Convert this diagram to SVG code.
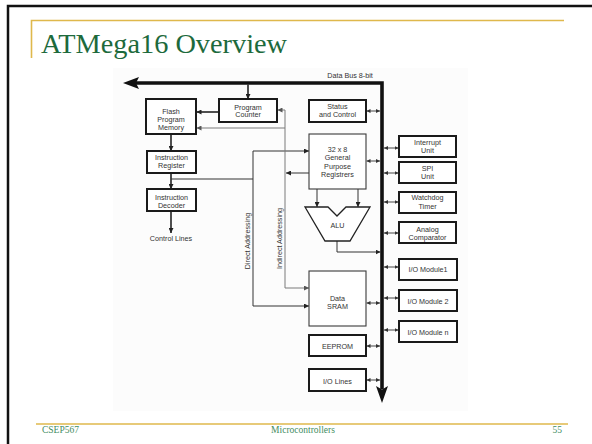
<svg xmlns="http://www.w3.org/2000/svg" width="592" height="444" viewBox="0 0 592 444">
  <style>
    .title { font-family: "Liberation Serif", "DejaVu Serif", serif; font-size: 28px; fill: #1d6a3c; }
    .foot { font-family: "Liberation Serif", "DejaVu Serif", serif; font-size: 9.5px; fill: #3f8d5f; }
    .gold { stroke: #dfb84c; stroke-width: 1.6; fill: none; }
    .frame { stroke: #111; stroke-width: 2.5; fill: none; }
    .lbl { font-family: "Liberation Sans", Arial, sans-serif; font-size: 7.2px; fill: #333; text-anchor: middle; }
    .box { fill: #fff; stroke: #1a1a1a; stroke-width: 2; }
    .tbox { fill: #fff; stroke: #3a3a3a; stroke-width: 1.1; }
    .bus { stroke: #111; stroke-width: 3.6; fill: none; stroke-linejoin: miter; }
    .thick { stroke: #222; stroke-width: 1.6; fill: none; marker-end: url(#ah); }
    .dark { stroke: #333; stroke-width: 1; fill: none; marker-end: url(#ah); }
    .grey { stroke: #7a7a7a; stroke-width: 1; fill: none; }
    .greya { stroke: #7a7a7a; stroke-width: 1; fill: none; marker-end: url(#ahg); }
    .bi { stroke: #444; stroke-width: 1; fill: none; marker-start: url(#ahs); marker-end: url(#ahs); }
  </style>
  <defs>
    <marker id="ah" viewBox="0 0 6 6" refX="6" refY="3" markerWidth="5" markerHeight="5" orient="auto-start-reverse" markerUnits="userSpaceOnUse">
      <path d="M0,0 L6,3 L0,6 z" fill="#222"/>
    </marker>
    <marker id="ahg" viewBox="0 0 6 6" refX="6" refY="3" markerWidth="5" markerHeight="5" orient="auto-start-reverse" markerUnits="userSpaceOnUse">
      <path d="M0,0 L6,3 L0,6 z" fill="#555"/>
    </marker>
    <marker id="ahs" viewBox="0 0 6 6" refX="6" refY="3" markerWidth="4" markerHeight="4" orient="auto-start-reverse" markerUnits="userSpaceOnUse">
      <path d="M0,0 L6,3 L0,6 z" fill="#333"/>
    </marker>
  </defs>

  <!-- slide frame and decoration -->
  <rect width="592" height="444" fill="#fff"/>
  <path class="frame" d="M8 444 V6 H592"/>
  <path class="gold" d="M31.5 58 V20.5 H564"/>
  <text class="title" x="41" y="53" textLength="246" lengthAdjust="spacingAndGlyphs">ATMega16 Overview</text>
  <path class="gold" d="M36 424 H568"/>
  <text class="foot" x="42" y="432.5">CSEP567</text>
  <text class="foot" x="303" y="432.5" text-anchor="middle">Microcontrollers</text>
  <text class="foot" x="562" y="432.5" text-anchor="end">55</text>

  <!-- figure background -->
  <rect x="113" y="68" width="355" height="343" fill="#fcfcfc"/>

  <!-- connectors -->
  <g id="connectors">
    <!-- data bus -->
    <path class="bus" d="M136 83 H382 V389"/>
    <polygon points="123,83 139,77 136,83 139,89" fill="#111"/>
    <polygon points="382,403 376,386 382,389.5 388,386" fill="#111"/>
    <text class="lbl" x="350" y="78">Data Bus 8-bit</text>

    <!-- program flow -->
    <path class="thick" d="M248 84.5 V99"/>
    <path class="thick" d="M219 112 H196.5"/>
    <path class="thick" d="M171 134 V151"/>
    <path class="thick" d="M171 173 V189"/>
    <path class="thick" d="M171 211 V233"/>

    <!-- direct addressing -->
    <path class="dark" style="marker-end:none" d="M171 179 H253"/>
    <path class="dark" d="M253 151 H309"/>
    <path class="dark" d="M253 151 V306 H309"/>
    <text class="lbl" x="250" y="241" transform="rotate(-90 250 241)">Direct Addressing</text>

    <!-- indirect addressing -->
    <path class="grey" d="M285 110 V288"/>
    <path class="greya" d="M285 110 H277.5"/>
    <path class="greya" d="M285 128 H196.5"/>
    <path class="greya" d="M285 288 H309"/>
    <path class="dark" d="M309 173 H286"/>
    <text class="lbl" x="282" y="238.5" transform="rotate(-90 282 238.5)">Indirect Addressing</text>

    <!-- registers to ALU and ALU to bus -->
    <path class="dark" d="M317 189 V207"/>
    <path class="dark" d="M358 189 V207"/>
    <path class="dark" d="M337 241 V252 H380.5"/>

    <!-- bidirectional bus links, left side -->
    <path class="bi" d="M366.5 111 H380"/>
    <path class="bi" d="M366.5 161 H380"/>
    <path class="bi" d="M366.5 303 H380"/>
    <path class="bi" d="M366.5 346 H380"/>
    <path class="bi" d="M366.5 380 H380"/>

    <!-- bidirectional bus links, right side -->
    <path class="bi" d="M384 148 H398.5"/>
    <path class="bi" d="M384 173 H398.5"/>
    <path class="bi" d="M384 202 H398.5"/>
    <path class="bi" d="M384 233 H398.5"/>
    <path class="bi" d="M384 267 H398.5"/>
    <path class="bi" d="M384 298 H398.5"/>
    <path class="bi" d="M384 330 H398.5"/>
  </g>

  <!-- nodes -->
  <g id="flash">
    <rect class="box" x="146" y="99" width="50" height="35"/>
    <text class="lbl" x="171" y="113.5">Flash</text>
    <text class="lbl" x="171" y="121.5">Program</text>
    <text class="lbl" x="171" y="129.5">Memory</text>
  </g>
  <g id="program-counter">
    <rect class="box" x="219" y="99" width="58" height="23"/>
    <text class="lbl" x="248" y="109.5">Program</text>
    <text class="lbl" x="248" y="117">Counter</text>
  </g>
  <g id="instruction-register">
    <rect class="box" x="147" y="151" width="49" height="22"/>
    <text class="lbl" x="171.5" y="160">Instruction</text>
    <text class="lbl" x="171.5" y="168">Register</text>
  </g>
  <g id="instruction-decoder">
    <rect class="box" x="147" y="189" width="49" height="22"/>
    <text class="lbl" x="171.5" y="199.5">Instruction</text>
    <text class="lbl" x="171.5" y="207.5">Decoder</text>
  </g>
  <g id="control-lines">
    <text class="lbl" x="171" y="241">Control Lines</text>
  </g>
  <g id="status-control">
    <rect class="box" x="309" y="100" width="57" height="22"/>
    <text class="lbl" x="337.5" y="108.5">Status</text>
    <text class="lbl" x="337.5" y="116.5">and Control</text>
  </g>
  <g id="registers">
    <rect class="tbox" x="309" y="134" width="57" height="55"/>
    <text class="lbl" x="337.5" y="152">32 x 8</text>
    <text class="lbl" x="337.5" y="160">General</text>
    <text class="lbl" x="337.5" y="168.5">Purpose</text>
    <text class="lbl" x="337.5" y="176.5">Registrers</text>
  </g>
  <g id="alu">
    <polygon points="305,207 328,207 337,216 346,207 370,207 350,241 325,241" fill="#fff" stroke="#222" stroke-width="1.3"/>
    <text class="lbl" x="337.5" y="228">ALU</text>
  </g>
  <g id="data-sram">
    <rect class="tbox" x="309" y="271" width="57" height="55"/>
    <text class="lbl" x="337.5" y="301">Data</text>
    <text class="lbl" x="337.5" y="309">SRAM</text>
  </g>
  <g id="eeprom">
    <rect class="box" x="309" y="335" width="57" height="21"/>
    <text class="lbl" x="337.5" y="348.5">EEPROM</text>
  </g>
  <g id="io-lines">
    <rect class="box" x="309" y="369" width="57" height="22"/>
    <text class="lbl" x="337.5" y="383.5">I/O Lines</text>
  </g>
  <g id="interrupt-unit">
    <rect class="box" x="399" y="136" width="57" height="21"/>
    <text class="lbl" x="427.5" y="145">Interrupt</text>
    <text class="lbl" x="427.5" y="153">Unit</text>
  </g>
  <g id="spi-unit">
    <rect class="box" x="399" y="162" width="57" height="21"/>
    <text class="lbl" x="427.5" y="171">SPI</text>
    <text class="lbl" x="427.5" y="179">Unit</text>
  </g>
  <g id="watchdog-timer">
    <rect class="box" x="399" y="192" width="57" height="21"/>
    <text class="lbl" x="427.5" y="200">Watchdog</text>
    <text class="lbl" x="427.5" y="209">Timer</text>
  </g>
  <g id="analog-comparator">
    <rect class="box" x="399" y="222" width="57" height="21"/>
    <text class="lbl" x="427.5" y="232">Analog</text>
    <text class="lbl" x="427.5" y="240">Comparator</text>
  </g>
  <g id="io-module-1">
    <rect class="box" x="399" y="259" width="58" height="21"/>
    <text class="lbl" x="428" y="272">I/O Module1</text>
  </g>
  <g id="io-module-2">
    <rect class="box" x="399" y="290" width="58" height="21"/>
    <text class="lbl" x="428" y="303.5">I/O Module 2</text>
  </g>
  <g id="io-module-n">
    <rect class="box" x="399" y="321" width="58" height="21"/>
    <text class="lbl" x="428" y="334.5">I/O Module n</text>
  </g>
</svg>
